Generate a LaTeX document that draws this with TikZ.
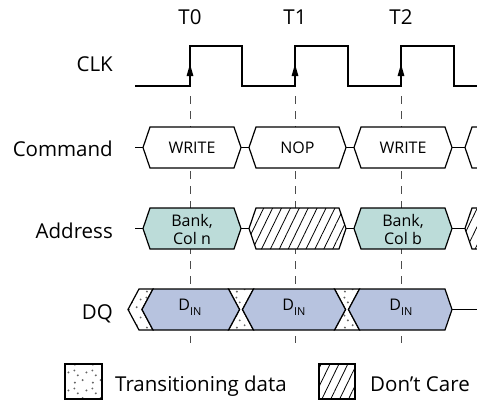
\documentclass[tikz,border=0pt]{standalone}
\usepackage{fontspec}
\setmainfont{Open Sans}
\usetikzlibrary{arrows.meta,patterns.meta}

\definecolor{addrteal}{RGB}{188,220,217}
\definecolor{dqblue}{RGB}{183,195,223}

\tikzdeclarepattern{
  name=tdots,
  type=colored,
  bottom left={(0pt,0pt)},
  top right={(18pt,18pt)},
  tile size={(18pt,18pt)},
  code={
    \fill[black!60] (3pt,2.5pt) circle (1.1pt);
    \fill[black!60] (11pt,5pt) circle (1.1pt);
    \fill[black!60] (6pt,10pt) circle (1.1pt);
    \fill[black!60] (15pt,13pt) circle (1.1pt);
    \fill[black!60] (2.5pt,15pt) circle (1.1pt);
  }
}

\begin{document}
\begin{tikzpicture}[x=1pt,y=-1pt,
    wave/.style={line width=1.3pt},
    bus/.style={line width=1.2pt},
    guide/.style={black!70,line width=0.8pt,dash pattern=on 8pt off 7pt},
    sig/.style={font=\fontsize{20.5}{24}\selectfont,inner sep=0pt,anchor=base east},
    tick/.style={font=\fontsize{20.5}{24}\selectfont,inner sep=0pt,anchor=base},
    busname/.style={font=\fontsize{16}{18}\selectfont,inner sep=0pt,align=center},
    hatch/.style={preaction={fill=white},pattern={Lines[angle=64,distance=8pt,line width=0.8pt]}},
    trans/.style={preaction={fill=white},pattern=tdots}]

      \useasboundingbox (0,0) rectangle (477,402);
      \clip (0,0) rectangle (477,402);

      % clock edges and guide lines
      \foreach \t/\x in {0/190,1/295,2/401} {
        \node[tick] (T\t) at (\x,24) {T\t};
        \draw[guide] (\x,96) -- (\x,343);
      }

      \draw[wave] (135,86) -- (190,86) -- (190,46) -- (242,46) -- (242,86)
        -- (295,86) -- (295,46) -- (348,46) -- (348,86)
        -- (401,86) -- (401,46) -- (454,46) -- (454,86) -- (477,86);
      \foreach \x in {190,295,401}
        \draw[wave,-{Triangle[length=12pt,width=6.5pt]}] (\x,86) -- (\x,64);

      \node[sig] (clk) at (113,71) {CLK};
      \node[sig] (cmd) at (113,156) {Command};
      \node[sig] (addr) at (113,238) {Address};
      \node[sig] (dq) at (113,319) {DQ};

      % command bus
      \draw[bus] (135,147.5) -- (477,147.5);
      \foreach \a/\b/\lbl [count=\i] in {143/241/WRITE,249/346/NOP,354/452/WRITE} {
        \draw[bus,fill=white] (\a,147.5) -- (\a+7,127) -- (\b-7,127) -- (\b,147.5)
          -- (\b-7,168) -- (\a+7,168) -- cycle;
        \node[busname] (cmd\i) at ({(\a+\b)/2},147.5) {\lbl};
      }
      \draw[bus,fill=white] (465,147.5) -- (472,127) -- (490,127) -- (490,168) -- (472,168) -- cycle;

      % address bus
      \draw[bus] (135,228.5) -- (477,228.5);
      \draw[bus,fill=addrteal] (143,228.5) -- (150,208) -- (234,208) -- (241,228.5)
        -- (234,249) -- (150,249) -- cycle;
      \node[busname] (addr1) at (192,229) {Bank,\\Col n};
      \draw[bus,hatch] (249,228.5) -- (256,208) -- (339,208) -- (346,228.5)
        -- (339,249) -- (256,249) -- cycle;
      \draw[bus,fill=addrteal] (354,228.5) -- (361,208) -- (445,208) -- (452,228.5)
        -- (445,249) -- (361,249) -- cycle;
      \node[busname] (addr2) at (403,229) {Bank,\\Col b};
      \draw[bus,hatch] (465,228.5) -- (472,208) -- (490,208) -- (490,249) -- (472,249) -- cycle;

      % data bus
      \draw[bus] (452,309.5) -- (477,309.5);
      \draw[bus,trans] (128,309.5) -- (139,289) -- (153,289) -- (142,309.5)
        -- (153,330) -- (139,330) -- cycle;
      \draw[bus,trans] (228.5,289) -- (253.5,289) -- (242.5,309.5) -- (253.5,330)
        -- (228.5,330) -- (239.5,309.5) -- cycle;
      \draw[bus,trans] (334.5,289) -- (359.5,289) -- (348.5,309.5) -- (359.5,330)
        -- (334.5,330) -- (345.5,309.5) -- cycle;
      \draw[bus,fill=dqblue] (142,309.5) -- (153,289) -- (228.5,289) -- (239.5,309.5)
        -- (228.5,330) -- (153,330) -- cycle;
      \draw[bus,fill=dqblue] (242.5,309.5) -- (253.5,289) -- (334.5,289) -- (345.5,309.5)
        -- (334.5,330) -- (253.5,330) -- cycle;
      \draw[bus,fill=dqblue] (348.5,309.5) -- (359.5,289) -- (445,289) -- (452,309.5)
        -- (445,330) -- (359.5,330) -- cycle;
      \foreach \x [count=\i] in {190,294,401}
        \node[busname,anchor=base] (din\i) at (\x,310.5) {D\raisebox{-5pt}{\fontsize{11}{11}\selectfont IN}};

      % legend
      \draw[bus,trans] (65,364) rectangle (102,399);
      \node[tick,anchor=base west] (leg1) at (115,391) {Transitioning data};
      \draw[bus,hatch] (319,364) rectangle (355,399);
      \node[tick,anchor=base west] (leg2) at (370,391) {Don’t Care};
    \end{tikzpicture}
\end{document}
